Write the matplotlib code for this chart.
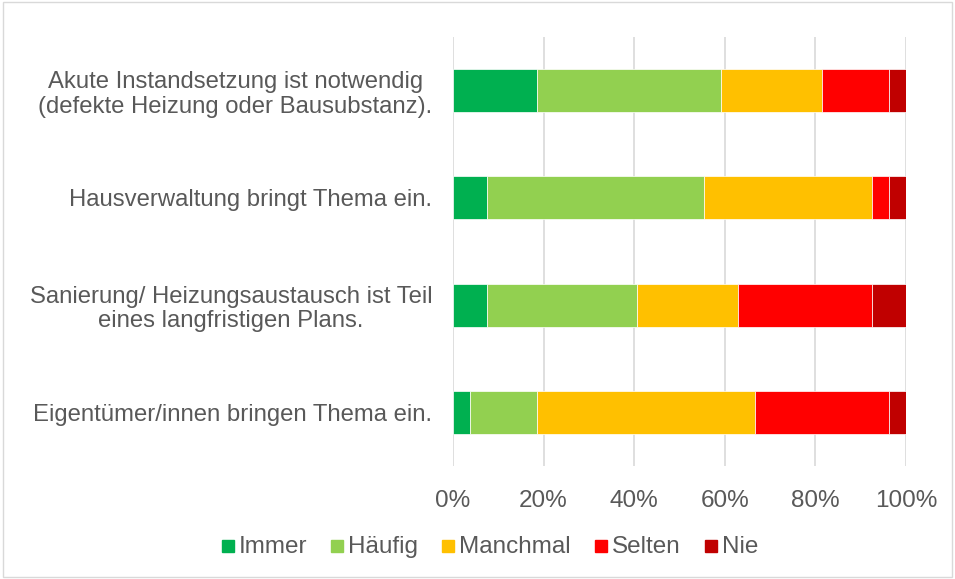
import numpy as np
import matplotlib.pyplot as plt

plt.rcParams['font.family'] = ['Liberation Sans', 'DejaVu Sans']

categories = [
    "Akute Instandsetzung ist notwendig\n(defekte Heizung oder Bausubstanz).",
    "Hausverwaltung bringt Thema ein.",
    "Sanierung/ Heizungsaustausch ist Teil\neines langfristigen Plans.",
    "Eigentümer/innen bringen Thema ein.",
]
series = ["Immer", "Häufig", "Manchmal", "Selten", "Nie"]
# Anteile in Prozent (n = 27)
immer = [18.5, 7.4, 7.4, 3.7]
haeufig = [40.7, 48.1, 33.3, 14.8]
manchmal = [22.2, 37.0, 22.2, 48.1]
selten = [14.8, 3.7, 29.6, 29.6]
nie = [3.7, 3.7, 7.4, 3.7]
colors = ["#00B050", "#92D050", "#FFC000", "#FF0000", "#C00000"]

values = [immer, haeufig, manchmal, selten, nie]
grey = "#595959"

W, H = 955, 579
fig = plt.figure(figsize=(W / 100, H / 100), dpi=100)
ax = fig.add_axes([453 / W, 1 - 466 / H, 453 / W, 429 / H])

y = np.arange(len(categories))
left = np.zeros(len(categories))
for name, vals, c in zip(series, values, colors):
    vals = np.array(vals)
    ax.barh(y, vals, left=left, height=0.4, color=c, label=name,
            edgecolor="white", linewidth=0.5, zorder=3)
    left += vals

ax.set_ylim(len(categories) - 0.5, -0.5)
ax.set_xlim(0, 100)
ax.set_yticks(y)
ax.set_yticklabels(categories, fontsize=17.2, color=grey, ha="right",
                   multialignment="center", linespacing=1.15)
ax.set_xticks(np.arange(0, 101, 20))
ax.set_xticklabels([f"{v}%" for v in range(0, 101, 20)], fontsize=17.5, color=grey)
ax.tick_params(axis="both", length=0)
ax.tick_params(axis="y", pad=15)
ax.tick_params(axis="x", pad=17)
ax.grid(axis="x", color="#D9D9D9", linewidth=1.2, zorder=0)
for s in ax.spines.values():
    s.set_visible(False)

# legend drawn by hand so all labels sit on one baseline
fig.canvas.draw()
r = fig.canvas.get_renderer()
leg_fs = 17.5
sq, gap, colgap = 12, 5, 24
base_y = 553
texts = [fig.text(0, 1 - base_y / H, s, fontsize=leg_fs, color=grey, va="baseline")
         for s in series]
widths = [t.get_window_extent(r).width for t in texts]
total = sum(widths) + len(series) * (sq + gap) + (len(series) - 1) * colgap
x = 490 - total / 2
for t, w, c in zip(texts, widths, colors):
    fig.patches.append(plt.Rectangle((x / W, 1 - (base_y - 1) / H), sq / W, sq / H,
                                     transform=fig.transFigure, color=c))
    x += sq + gap
    t.set_x(x / W)
    x += w + colgap

fig.patches.append(plt.Rectangle((0.003, 0.003), 0.994, 0.994, transform=fig.transFigure,
                                 fill=False, edgecolor="#D9D9D9", linewidth=1))

fig.savefig("out.png", dpi=100)
